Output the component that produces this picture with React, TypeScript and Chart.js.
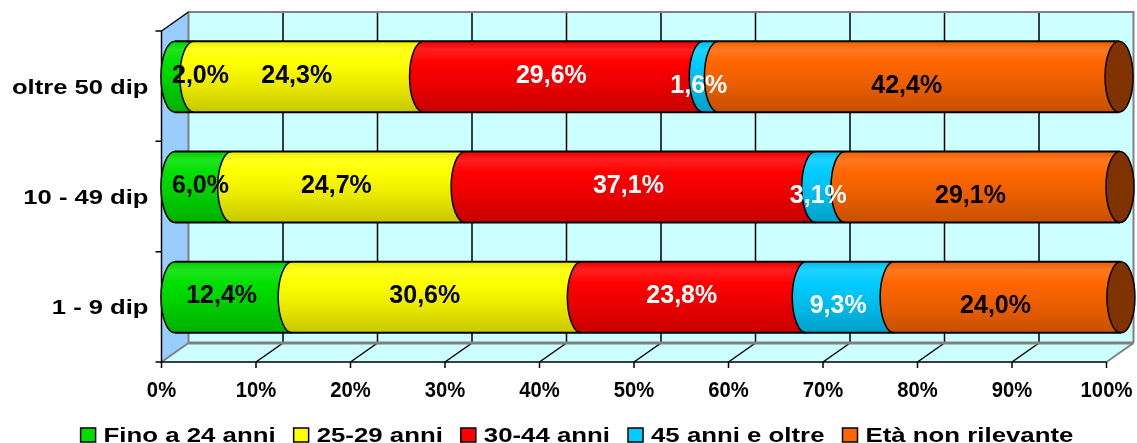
import React, { useEffect, useRef } from "react";
import { Chart, registerables } from "chart.js";

Chart.register(...registerables);

// ---------- data ----------
const categories = ["oltre 50 dip", "10 - 49 dip", "1 - 9 dip"];
const seriesNames = ["Fino a 24 anni", "25-29 anni", "30-44 anni", "45 anni e oltre", "Età non rilevante"];
const fino24 = [2.0, 6.0, 12.4];
const anni2529 = [24.3, 24.7, 30.6];
const anni3044 = [29.6, 37.1, 23.8];
const anni45oltre = [1.6, 3.1, 9.3];
const nonRilevante = [42.4, 29.1, 24.0];
const xTickValues = [0, 10, 20, 30, 40, 50, 60, 70, 80, 90, 100];
const xTickLabels = ["0%", "10%", "20%", "30%", "40%", "50%", "60%", "70%", "80%", "90%", "100%"];

// ---------- styles ----------
const seriesColors = ["#00E000", "#FFFF00", "#FF0000", "#00CCFF", "#FF6600"];
const capColors = ["#007000", "#808000", "#800000", "#006680", "#803300"];
const labelColors = ["#000000", "#000000", "#FFFFFF", "#FFFFFF", "#000000"];
const labelDy = [-3, -3, -3, 7, 7];
const FONT = '"Liberation Sans", Arial, sans-serif';
const DX = 13.5;
const DY = 9.5;
const RX = 14;

function fmt(v: number) {
  return v.toFixed(1).replace(".", ",") + "%";
}

function mix(hex: string, f: number) {
  const n = parseInt(hex.slice(1), 16);
  let r = (n >> 16) & 255, g = (n >> 8) & 255, b = n & 255;
  if (f <= 1) {
    r *= f; g *= f; b *= f;
  } else {
    const t = f - 1;
    r += (255 - r) * t; g += (255 - g) * t; b += (255 - b) * t;
  }
  return `rgb(${Math.round(r)},${Math.round(g)},${Math.round(b)})`;
}

function drawText(ctx: CanvasRenderingContext2D, text: string, x: number, y: number, align: CanvasTextAlign, sx: number) {
  ctx.save();
  ctx.translate(x, y);
  ctx.scale(sx, 1);
  ctx.textAlign = align;
  ctx.fillText(text, 0, 0);
  ctx.restore();
}

const threeDPlugin = {
  id: "threeD",
  beforeDatasetsDraw(chart: any) {
    const ctx: CanvasRenderingContext2D = chart.ctx;
    const xs = chart.scales.x;
    const ca = chart.chartArea;
    const fx = (v: number) => xs.getPixelForValue(v) - DX;
    const bx = (v: number) => xs.getPixelForValue(v) + DX;
    const fTop = ca.top + DY, fBot = ca.bottom + DY, bTop = ca.top - DY, bBot = ca.bottom - DY;

    ctx.save();
    // back wall
    ctx.fillStyle = "#CCFFFF";
    ctx.fillRect(bx(0), bTop, bx(100) - bx(0), bBot - bTop);
    // floor
    ctx.beginPath();
    ctx.moveTo(fx(0), fBot);
    ctx.lineTo(fx(100), fBot);
    ctx.lineTo(bx(100), bBot);
    ctx.lineTo(bx(0), bBot);
    ctx.closePath();
    ctx.fill();
    // side wall
    ctx.fillStyle = "#99CCFF";
    ctx.beginPath();
    ctx.moveTo(fx(0), fTop);
    ctx.lineTo(bx(0), bTop);
    ctx.lineTo(bx(0), bBot);
    ctx.lineTo(fx(0), fBot);
    ctx.closePath();
    ctx.fill();

    // gridlines on back wall + floor
    ctx.strokeStyle = "#000000";
    ctx.lineWidth = 1.5;
    for (const v of xTickValues) {
      if (v === 0 || v === 100) continue;
      ctx.beginPath();
      ctx.moveTo(bx(v), bTop);
      ctx.lineTo(bx(v), bBot);
      ctx.moveTo(fx(v), fBot);
      ctx.lineTo(bx(v), bBot);
      ctx.stroke();
    }
    // gray borders
    ctx.strokeStyle = "#808080";
    ctx.lineWidth = 2;
    ctx.beginPath();
    ctx.moveTo(bx(0), bBot);
    ctx.lineTo(bx(0), bTop);
    ctx.lineTo(bx(100), bTop);
    ctx.lineTo(bx(100), bBot);
    ctx.moveTo(fx(0), fBot);
    ctx.lineTo(bx(0), bBot);
    ctx.moveTo(fx(100), fBot);
    ctx.lineTo(bx(100), bBot);
    ctx.stroke();
    ctx.lineWidth = 3;
    ctx.beginPath();
    ctx.moveTo(bx(0), bBot);
    ctx.lineTo(bx(100), bBot);
    ctx.stroke();

    // side wall top edge + axes
    ctx.strokeStyle = "#000000";
    ctx.lineWidth = 1.5;
    ctx.beginPath();
    ctx.moveTo(fx(0), fTop);
    ctx.lineTo(bx(0), bTop);
    ctx.moveTo(fx(0), fTop);
    ctx.lineTo(fx(0), fBot);
    ctx.lineTo(fx(100), fBot);
    for (const v of xTickValues) {
      ctx.moveTo(fx(v), fBot);
      ctx.lineTo(fx(v), fBot + 6);
    }
    const n = categories.length;
    for (let k = 0; k <= n; k++) {
      const y = fTop + (k * (fBot - fTop)) / n;
      ctx.moveTo(fx(0) - 6, y);
      ctx.lineTo(fx(0), y);
    }
    ctx.stroke();

    // cylinders
    const nd = chart.data.datasets.length;
    for (let i = 0; i < n; i++) {
      let first = Infinity, last = -Infinity, yc = 0, hh = 0;
      for (let j = 0; j < nd; j++) {
        const el = chart.getDatasetMeta(j).data[i];
        const p = el.getProps(["x", "y", "base", "height"], true);
        const x0 = Math.min(p.x, p.base), x1 = Math.max(p.x, p.base);
        yc = p.y; hh = p.height / 2;
        const top = yc - hh, bot = yc + hh;
        first = Math.min(first, x0);
        last = Math.max(last, x1);
        const col = seriesColors[j];
        const g = ctx.createLinearGradient(0, top, 0, bot);
        g.addColorStop(0, mix(col, 0.92));
        g.addColorStop(0.12, mix(col, 1.12));
        g.addColorStop(0.3, mix(col, 1.0));
        g.addColorStop(0.6, mix(col, 0.92));
        g.addColorStop(1, mix(col, 0.78));
        ctx.fillStyle = g;
        ctx.beginPath();
        ctx.moveTo(x1 + 0.5, top);
        ctx.lineTo(x0, top);
        ctx.ellipse(x0, yc, RX, hh, 0, -Math.PI / 2, Math.PI / 2, true);
        ctx.lineTo(x1 + 0.5, bot);
        ctx.closePath();
        ctx.fill();
        ctx.strokeStyle = "#000000";
        ctx.lineWidth = 1.5;
        ctx.beginPath();
        ctx.ellipse(x0, yc, RX, hh, 0, -Math.PI / 2, Math.PI / 2, true);
        ctx.stroke();
      }
      // top & bottom outline
      ctx.strokeStyle = "#000000";
      ctx.lineWidth = 2;
      ctx.beginPath();
      ctx.moveTo(first, yc - hh);
      ctx.lineTo(last, yc - hh);
      ctx.moveTo(first, yc + hh);
      ctx.lineTo(last, yc + hh);
      ctx.stroke();
      // end cap
      ctx.fillStyle = capColors[nd - 1];
      ctx.beginPath();
      ctx.ellipse(last, yc, RX, hh, 0, 0, Math.PI * 2);
      ctx.fill();
      ctx.lineWidth = 1.5;
      ctx.stroke();
    }
    ctx.restore();
    return false;
  },
  afterDraw(chart: any) {
    const ctx: CanvasRenderingContext2D = chart.ctx;
    const xs = chart.scales.x;
    const ca = chart.chartArea;
    const fx = (v: number) => xs.getPixelForValue(v) - DX;
    const fBot = ca.bottom + DY;
    ctx.save();
    ctx.textBaseline = "alphabetic";

    // data labels
    ctx.font = `bold 25px ${FONT}`;
    const nd = chart.data.datasets.length;
    for (let j = 0; j < nd; j++) {
      const meta = chart.getDatasetMeta(j);
      meta.data.forEach((el: any, i: number) => {
        const p = el.getProps(["x", "y", "base"], true);
        const txt = fmt(chart.data.datasets[j].data[i]);
        const w = ctx.measureText(txt).width;
        let cx = (p.x + p.base) / 2 - 12;
        if (cx - w / 2 < ca.left - 3) cx = ca.left - 3 + w / 2;
        ctx.fillStyle = labelColors[j];
        drawText(ctx, txt, cx, p.y + labelDy[j] + 9, "center", 1);
      });
    }

    // category labels
    ctx.fillStyle = "#000000";
    ctx.font = `bold 20px ${FONT}`;
    const ys = chart.scales.y;
    categories.forEach((c, i) => {
      const y = ys.getPixelForValue(i) + DY + 7.5;
      drawText(ctx, c, fx(0) - 13, y, "right", 1.28);
    });

    // x tick labels
    ctx.font = `bold 22px ${FONT}`;
    xTickValues.forEach((v, k) => {
      drawText(ctx, xTickLabels[k], fx(v), fBot + 35, "center", 0.92);
    });

    // legend
    ctx.font = `bold 20px ${FONT}`;
    const sx = 1.29;
    const sq = 15, gapSq = 8, gapItem = 18;
    const widths = seriesNames.map((s) => ctx.measureText(s).width * sx);
    const total = widths.reduce((a, b) => a + b, 0) + seriesNames.length * (sq + gapSq) + (seriesNames.length - 1) * gapItem;
    let x = 577 - total / 2;
    const base = 442;
    seriesNames.forEach((s, k) => {
      ctx.fillStyle = seriesColors[k];
      ctx.fillRect(x, base - 14, sq, 14);
      ctx.strokeStyle = "#000000";
      ctx.lineWidth = 1.5;
      ctx.strokeRect(x, base - 14, sq, 14);
      x += sq + gapSq;
      ctx.fillStyle = "#000000";
      drawText(ctx, s, x, base, "left", sx);
      x += widths[k] + gapItem;
    });
    ctx.restore();
  },
};

export default function App() {
  const ref = useRef<HTMLCanvasElement | null>(null);
  useEffect(() => {
    if (!ref.current) return;
    const seriesData = [fino24, anni2529, anni3044, anni45oltre, nonRilevante];
    const chart = new Chart(ref.current, {
      type: "bar",
      data: {
        labels: categories,
        datasets: seriesNames.map((name, k) => ({
          label: name,
          data: seriesData[k],
          backgroundColor: seriesColors[k],
          barThickness: 71,
        })),
      },
      options: {
        indexAxis: "y",
        responsive: false,
        animation: false,
        devicePixelRatio: 1,
        events: [],
        layout: { padding: { left: 175, right: 17, top: 21.5, bottom: 90.5 } },
        plugins: { legend: { display: false }, tooltip: { enabled: false } },
        scales: {
          x: { stacked: true, min: 0, max: 100, display: false },
          y: { stacked: true, display: false },
        },
      },
      plugins: [threeDPlugin],
    } as any);
    return () => chart.destroy();
  }, []);
  return (
    <div style={{ position: "fixed", left: 0, top: 0, width: 1137, height: 443, background: "#ffffff" }}>
      <canvas ref={ref} width={1137} height={443} style={{ display: "block" }} />
    </div>
  );
}
